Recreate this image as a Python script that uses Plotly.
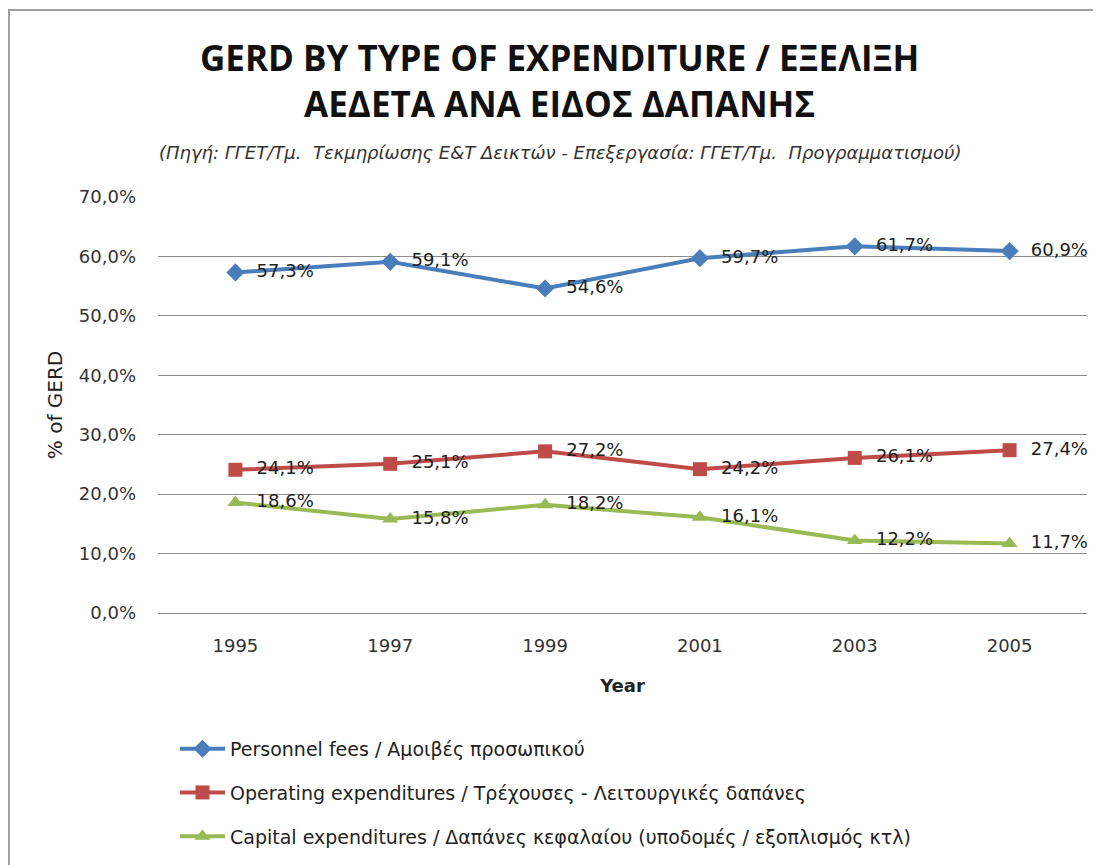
import plotly.graph_objects as go

years = ["1995", "1997", "1999", "2001", "2003", "2005"]
personnel = [0.573, 0.591, 0.546, 0.597, 0.617, 0.609]
operating = [0.241, 0.251, 0.272, 0.242, 0.261, 0.274]
capital = [0.186, 0.158, 0.182, 0.161, 0.122, 0.117]

names = [
    "Personnel fees / Αμοιβές προσωπικού",
    "Operating expenditures / Τρέχουσες - Λειτουργικές δαπάνες",
    "Capital expenditures / Δαπάνες κεφαλαίου (υποδομές / εξοπλισμός κτλ)",
]
colors = ["#4a7ebb", "#be4b48", "#98b954"]
symbols = ["diamond", "square", "triangle-up"]
series = [personnel, operating, capital]

fig = go.Figure()
for i, (vals, name) in enumerate(zip(series, names)):
    fig.add_trace(go.Scatter(
        x=years, y=vals, name=name, mode="lines+markers+text",
        line=dict(color=colors[i], width=4),
        marker=dict(symbol=symbols[i], size=14, color=colors[i]),
        texttemplate="  %{y:.1%}", textposition="middle right",
        textfont=dict(family="DejaVu Sans", size=18, color="#222"),
        legendgroup=f"g{i}", cliponaxis=False,
    ))

fig.update_layout(
    width=1101, height=865,
    separators=", ",
    paper_bgcolor="white", plot_bgcolor="white",
    margin=dict(l=150, r=22, t=189, b=260),
    showlegend=True,
    legend=dict(x=0.0183, y=-0.281, xanchor="left", yanchor="top",
                font=dict(family="DejaVu Sans", size=19, color="#222"),
                itemwidth=45, tracegroupgap=16, bgcolor="rgba(0,0,0,0)"),
    font=dict(family="DejaVu Sans", color="#333"),
)
fig.update_xaxes(type="category", range=[-0.5, 5.5], showgrid=False, showline=False, ticks="",
                 tickfont=dict(family="DejaVu Sans", size=18, color="#333"),
                 ticklabelstandoff=20,
                 title=dict(text="<b>Year</b>", font=dict(family="DejaVu Sans", size=18, color="#222"), standoff=24))
fig.update_yaxes(range=[0, 0.7], dtick=0.1, tickformat=".1%", showgrid=True,
                 gridcolor="#8c8c8c", gridwidth=1, zeroline=True, zerolinecolor="#8c8c8c",
                 zerolinewidth=1, showline=False,
                 tickfont=dict(family="DejaVu Sans", size=18, color="#333"),
                 ticklabelstandoff=21,
                 title=dict(text="% of GERD", font=dict(family="DejaVu Sans", size=20, color="#222"), standoff=10))

fig.add_annotation(xref="paper", yref="paper", x=0.4327, y=1.280, yanchor="middle",
                   text="<b>GERD BY TYPE OF EXPENDITURE / ΕΞΕΛΙΞΗ<br>ΑΕΔΕΤΑ ΑΝΑ ΕΙΔΟΣ ΔΑΠΑΝΗΣ</b>",
                   showarrow=False, align="center",
                   font=dict(family="Open Sans", size=35, color="#111"))
fig.add_annotation(xref="paper", yref="paper", x=0.4327, y=1.108, yanchor="middle",
                   text="<i>(Πηγή: ΓΓΕΤ/Τμ.  Τεκμηρίωσης Ε&Τ Δεικτών - Επεξεργασία: ΓΓΕΤ/Τμ.  Προγραμματισμού)</i>",
                   showarrow=False, font=dict(family="DejaVu Sans", size=18, color="#333"))

fig.add_shape(type="rect", xref="paper", yref="paper",
              x0=-149 / 929, x1=1.05, y0=-0.7, y1=(605 - 2) / 416,
              line=dict(color="#a0a0a0", width=2), fillcolor="rgba(0,0,0,0)", layer="below")

fig.write_html("out.html")
